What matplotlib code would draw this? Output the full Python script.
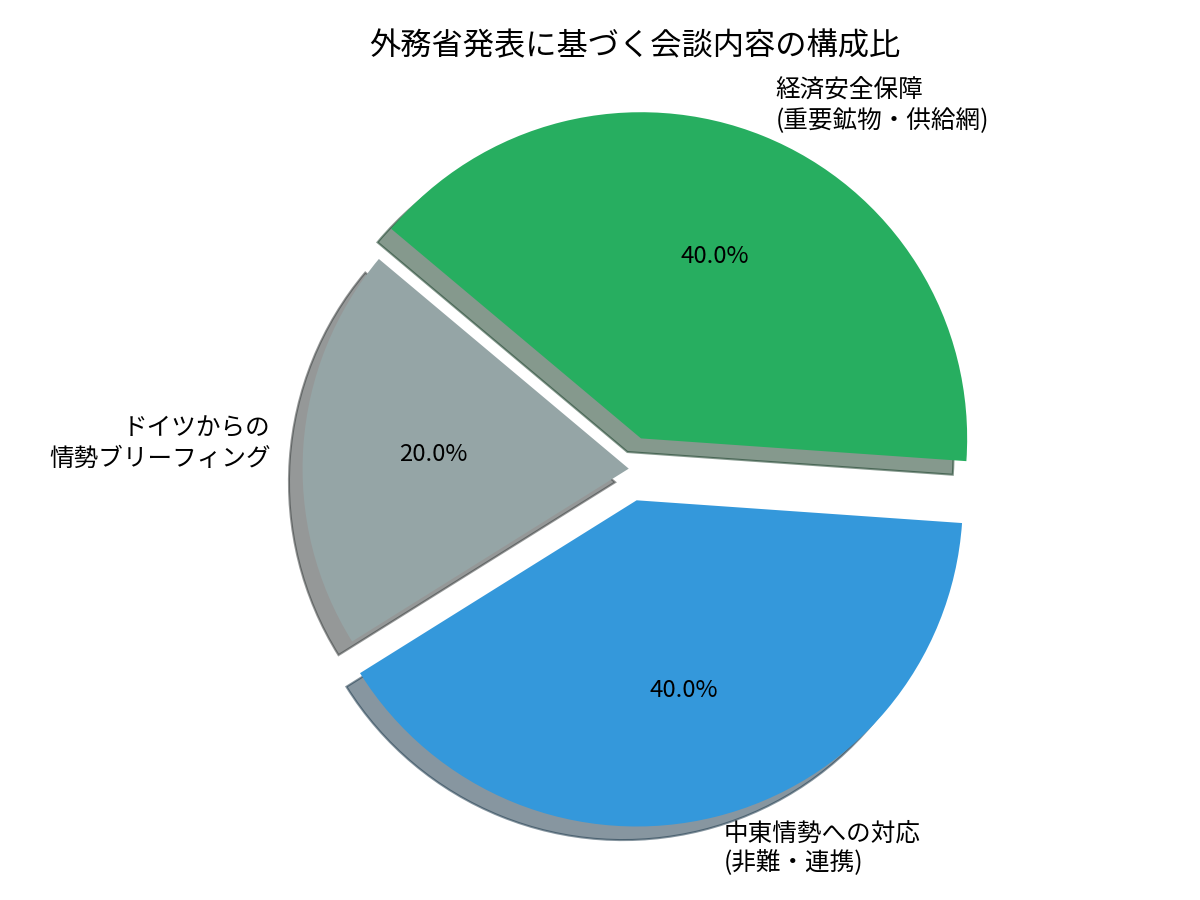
import matplotlib
matplotlib.use('Agg')
import matplotlib.pyplot as plt

plt.rcParams['font.family'] = ['Noto Sans CJK JP', 'DejaVu Sans']

# data
labels = ['経済安全保障\n(重要鉱物・供給網)', '中東情勢への対応\n(非難・連携)', 'ドイツからの\n情勢ブリーフィング']
sizes = [40, 40, 20]
colors = ['#27ae60', '#3498db', '#95a5a6']
explode = [0.1, 0.1, 0]

fig, ax = plt.subplots(figsize=(8, 6), dpi=150)
wedges, texts, autotexts = ax.pie(sizes, labels=labels, colors=colors, explode=explode,
                                  autopct='%1.1f%%', startangle=140, counterclock=False,
                                  shadow=True, textprops={'fontsize': 11.8})
for t in autotexts:
    t.set_fontsize(11.5)
ax.set_title('外務省発表に基づく会談内容の構成比', fontsize=15, pad=10)
ax.axis('equal')
plt.subplots_adjust(left=0.1123, right=0.9458, top=0.915, bottom=0.042)
plt.savefig('out.png')
